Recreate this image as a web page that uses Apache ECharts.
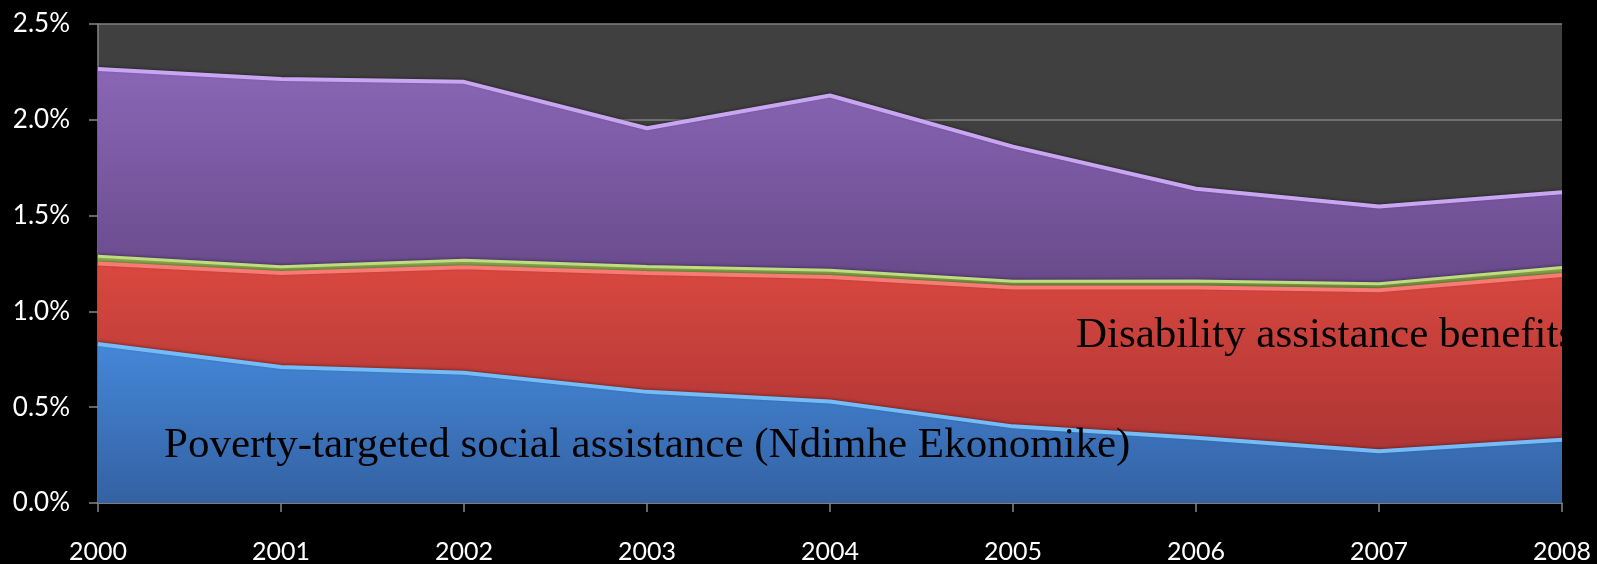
<!DOCTYPE html>
<html>
<head>
<meta charset="utf-8">
<script src="https://cdn.jsdelivr.net/npm/echarts@6/dist/echarts.min.js"></script>
<style>
  html, body { margin: 0; padding: 0; background: #000; }
  #chart { width: 1597px; height: 564px; }
</style>
</head>
<body>
<div id="chart"></div>
<script>
// Social assistance spending, share of GDP (%)
const years = ['2000', '2001', '2002', '2003', '2004', '2005', '2006', '2007', '2008'];
const povertyTargeted = [0.83, 0.71, 0.68, 0.58, 0.53, 0.40, 0.34, 0.27, 0.33];
const disabilityBenefits = [0.42, 0.49, 0.55, 0.62, 0.65, 0.725, 0.785, 0.84, 0.86];
const otherSmall = [0.038, 0.033, 0.037, 0.034, 0.035, 0.032, 0.034, 0.034, 0.039];
const otherLarge = [0.977, 0.98, 0.931, 0.722, 0.912, 0.703, 0.481, 0.403, 0.393];

const grad = (top, bottom) => new echarts.graphic.LinearGradient(0, 0, 0, 1, [
  { offset: 0, color: top },
  { offset: 1, color: bottom }
]);

function band(name, data, topColor, bottomColor, edgeColor, edgeWidth) {
  return {
    name: name,
    type: 'line',
    stack: 'total',
    data: data,
    symbol: 'none',
    smooth: false,
    lineStyle: {
      color: edgeColor, width: edgeWidth,
      shadowColor: 'rgba(0,0,0,0.35)', shadowBlur: 3, shadowOffsetY: -1
    },
    areaStyle: { color: grad(topColor, bottomColor), opacity: 1 },
    emphasis: { disabled: true }
  };
}

const chart = echarts.init(document.getElementById('chart'));
chart.setOption({
  backgroundColor: '#000000',
  animation: false,
  grid: {
    left: 98, right: 35, top: 24, bottom: 60,
    show: true, backgroundColor: '#404040', borderWidth: 0
  },
  xAxis: {
    type: 'category',
    data: years,
    boundaryGap: false,
    axisLine: { lineStyle: { color: '#868686', width: 1.5 } },
    axisTick: { show: true, length: 9, lineStyle: { color: '#868686', width: 1.5 } },
    axisLabel: {
      color: '#ffffff', fontFamily: 'Lato', fontSize: 25, margin: 36,
      showMinLabel: true, showMaxLabel: true
    },
    splitLine: { show: false }
  },
  yAxis: {
    type: 'value',
    min: 0, max: 2.5, interval: 0.5,
    axisLine: { show: true, lineStyle: { color: '#868686', width: 1.5 } },
    axisTick: { show: true, length: 9, lineStyle: { color: '#868686', width: 1.5 } },
    axisLabel: {
      color: '#ffffff', fontFamily: 'Lato', fontSize: 26, margin: 28,
      formatter: v => v.toFixed(1) + '%'
    },
    splitLine: { show: true, lineStyle: { color: '#808080', width: 1.5 } }
  },
  series: [
    band('Poverty-targeted social assistance (Ndimhe Ekonomike)', povertyTargeted,
      '#4487d8', '#3461a2', '#74bcf8', 4),
    band('Disability assistance benefits', disabilityBenefits,
      '#d9483f', '#ad3535', '#f87a74', 4),
    band('Other benefits', otherSmall,
      '#94b552', '#7c9a40', '#c0dc80', 3),
    band('Other assistance', otherLarge,
      '#8a66b6', '#684a8a', '#c9a6f2', 4)
  ],
  graphic: [
    {
      type: 'text', x: 164, y: 446, z: 100,
      style: {
        text: 'Poverty-targeted social assistance (Ndimhe Ekonomike)',
        fill: '#000000', font: '43px "Liberation Serif"', verticalAlign: 'middle'
      }
    },
    {
      type: 'text', x: 1076, y: 336, z: 100,
      style: {
        text: 'Disability assistance benefits',
        fill: '#000000', font: '43px "Liberation Serif"', verticalAlign: 'middle'
      }
    }
  ]
});
</script>
</body>
</html>
